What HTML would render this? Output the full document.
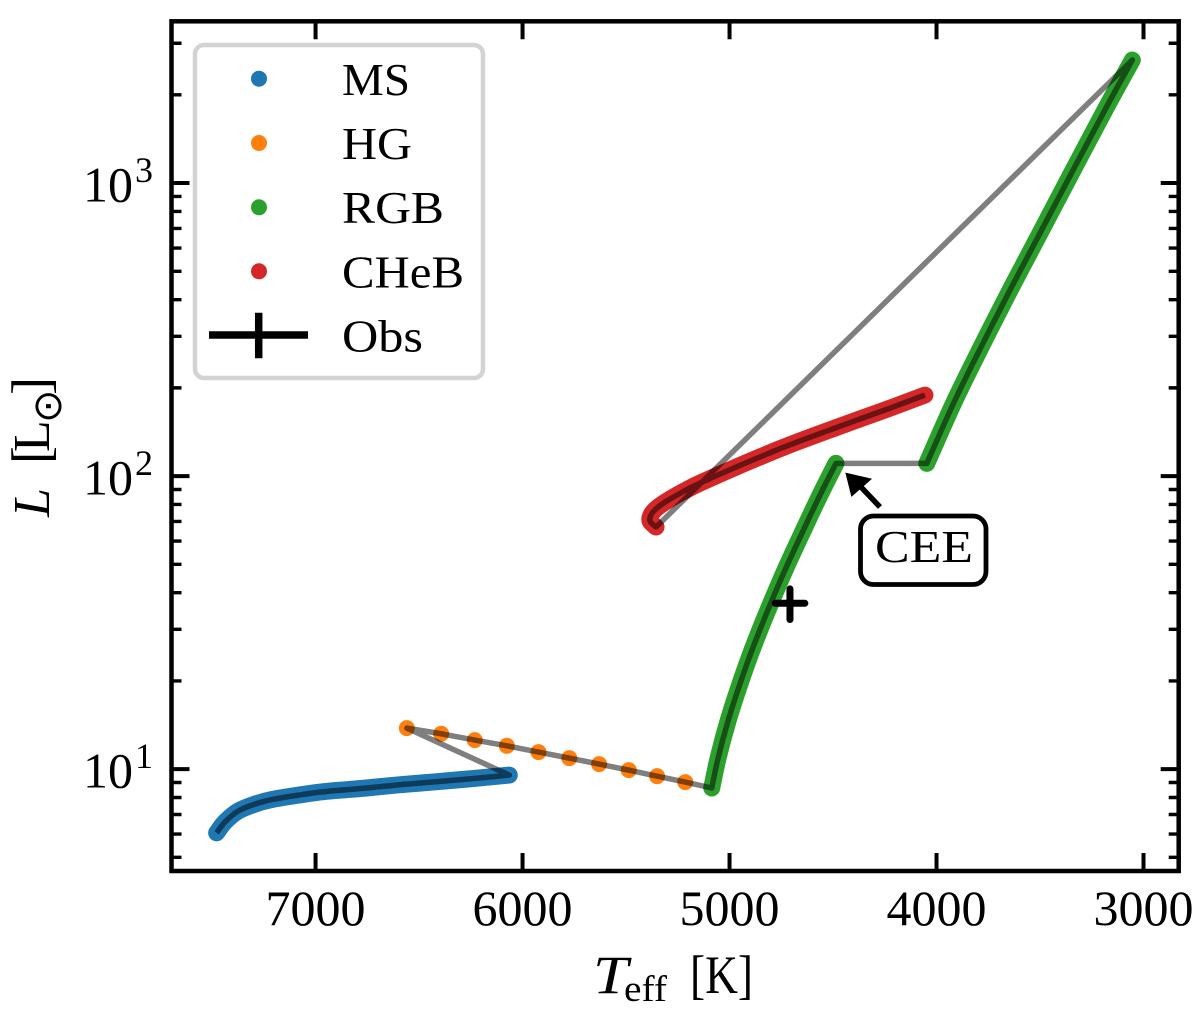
<!DOCTYPE html>
<html lang="en">
<head>
<meta charset="utf-8">
<title>HR diagram</title>
<style>
html,body{margin:0;padding:0;background:#fff;}
svg{display:block;}
text{font-family:"Liberation Serif","DejaVu Serif",serif;fill:#000;}
</style>
</head>
<body>
<svg id="chart" xmlns="http://www.w3.org/2000/svg" width="1200" height="1022" viewBox="0 0 1200 1022">
  <g id="colored"></g>
  <g id="track"></g>
  <g id="obs"></g>
  <g id="axes"></g>

  <g>
    <rect x="195" y="45" width="288" height="333" rx="9" fill="#fff" fill-opacity="0.8" stroke="#d3d3d3" stroke-width="4.5"/>
    <circle cx="259" cy="78.7" r="8" fill="#1f77b4"/>
    <circle cx="259" cy="143" r="8" fill="#ff7f0e"/>
    <circle cx="259" cy="207.3" r="8" fill="#2ca02c"/>
    <circle cx="259" cy="271.3" r="8" fill="#d62728"/>
    <path d="M209 335H308M258.7 312.7V358.3" stroke="#000" stroke-width="7.5" fill="none"/>
    <text x="342" y="95" font-size="46" textLength="68" lengthAdjust="spacingAndGlyphs">MS</text>
    <text x="342" y="159" font-size="46" textLength="70" lengthAdjust="spacingAndGlyphs">HG</text>
    <text x="342" y="223" font-size="46" textLength="102" lengthAdjust="spacingAndGlyphs">RGB</text>
    <text x="342" y="287.3" font-size="46" textLength="122" lengthAdjust="spacingAndGlyphs">CHeB</text>
    <text x="342" y="351.7" font-size="46" textLength="81" lengthAdjust="spacingAndGlyphs">Obs</text>
  </g>

  <g>
    <path d="M880 507L860 486" stroke="#000" stroke-width="5.5" fill="none"/>
    <polygon points="846,473.3 851.7,496 871,479" fill="#000" stroke="#000" stroke-width="1"/>
    <rect x="860.5" y="516" width="125.5" height="68.5" rx="13" fill="#fff" stroke="#000" stroke-width="4.8"/>
    <text x="875" y="562" font-size="46" textLength="98" lengthAdjust="spacingAndGlyphs">CEE</text>
  </g>

  <g>
    <text x="593" y="993" font-size="54" font-style="italic" textLength="35" lengthAdjust="spacingAndGlyphs">T</text>
    <text x="624" y="1001" font-size="37" textLength="43" lengthAdjust="spacingAndGlyphs">eff</text>
    <text x="690" y="993" font-size="54" textLength="63" lengthAdjust="spacingAndGlyphs">[K]</text>
  </g>

  <g transform="translate(49,517) rotate(-90)">
    <text x="0" y="0" font-size="52" font-style="italic">L</text>
    <text x="53" y="0" font-size="54">[</text>
    <text x="65" y="0" font-size="52">L</text>
    <text x="94" y="12" font-size="40" style="font-family:'DejaVu Sans',sans-serif">⊙</text>
    <text x="122" y="0" font-size="54">]</text>
  </g>
</svg>

<script>
// Axis limits
const xLimits = [7696, 2830];
const yLimits = [4.49, 3565];

// Tick values and labels
const xTicks = [7000, 6000, 5000, 4000, 3000];
const xTickLabels = ['7000', '6000', '5000', '4000', '3000'];
const yMajorTicks = [10, 100, 1000];
const yTickBases = ['10', '10', '10'];
const yTickExponents = ['1', '2', '3'];
const yMinorTicks = [5, 6, 7, 8, 9, 20, 30, 40, 50, 60, 70, 80, 90, 200, 300, 400, 500, 600, 700, 800, 900, 2000, 3000];

// Main sequence
const msTeff = [7478, 7437, 7374, 7292, 7212, 7083, 6957, 6761, 6589, 6420, 6250, 6064];
const msLum = [6.06, 6.61, 7.19, 7.6, 7.87, 8.15, 8.38, 8.61, 8.85, 9.05, 9.27, 9.54];

// Hertzsprung gap
const hgTeff = [6559, 6393, 6231, 6076, 5923, 5774, 5630, 5487, 5350, 5214];
const hgLum = [13.8, 13.2, 12.56, 12.01, 11.43, 10.9, 10.4, 9.92, 9.46, 9.03];

// Red giant branch, before the common-envelope event
const rgbATeff = [5086, 5054, 5006, 4949, 4885, 4808, 4732, 4643, 4563, 4486];
const rgbALum = [8.62, 11, 14.7, 19.6, 26.2, 35.8, 47.8, 65.4, 86.1, 110.5];

// Red giant branch, after the common-envelope event
const rgbBTeff = [4047, 3915, 3780, 3640, 3484, 3323, 3178, 3054];
const rgbBLum = [110.5, 179, 280, 438, 709, 1168, 1822, 2629];

// Core helium burning
const chebTeff = [5355, 5384, 5377, 5345, 5287, 5215, 5143, 4965, 4724, 4482, 4241, 4056];
const chebLum = [67, 70.2, 74.2, 78.4, 83.5, 89.2, 94.6, 107.6, 126.6, 146.6, 168.9, 189];

// Observation
const obsTeff = [4708];
const obsLum = [36.8];
const obsTeffErr = [72];
const obsLumErr = [4.4];

const NS = 'http://www.w3.org/2000/svg';
const plotLeft = 171.5, plotRight = 1178.7, plotTop = 21.3, plotBottom = 871;

function xScale(t) {
  return plotLeft + (t - xLimits[0]) / (xLimits[1] - xLimits[0]) * (plotRight - plotLeft);
}
function yScale(l) {
  const lo = Math.log10(yLimits[0]), hi = Math.log10(yLimits[1]);
  return plotBottom - (Math.log10(l) - lo) / (hi - lo) * (plotBottom - plotTop);
}
function toPoints(ts, ls) {
  return ts.map(function (t, i) { return [xScale(t), yScale(ls[i])]; });
}
// Smooth path through the points (Catmull-Rom converted to Bezier segments)
function smoothSegments(p) {
  let d = '';
  for (let i = 0; i < p.length - 1; i++) {
    const a = p[Math.max(i - 1, 0)], b = p[i], c = p[i + 1], e = p[Math.min(i + 2, p.length - 1)];
    const c1x = b[0] + (c[0] - a[0]) / 6, c1y = b[1] + (c[1] - a[1]) / 6;
    const c2x = c[0] - (e[0] - b[0]) / 6, c2y = c[1] - (e[1] - b[1]) / 6;
    d += 'C' + c1x.toFixed(2) + ' ' + c1y.toFixed(2) + ' ' + c2x.toFixed(2) + ' ' + c2y.toFixed(2) + ' ' + c[0].toFixed(2) + ' ' + c[1].toFixed(2);
  }
  return d;
}
function smoothPath(p) {
  return 'M' + p[0][0].toFixed(2) + ' ' + p[0][1].toFixed(2) + smoothSegments(p);
}

const colored = document.getElementById('colored');
const trackGroup = document.getElementById('track');
const obsGroup = document.getElementById('obs');
const axesGroup = document.getElementById('axes');

// Thick coloured bands (densely sampled phases)
const msPts = toPoints(msTeff, msLum);
const hgPts = toPoints(hgTeff, hgLum);
const rgbAPts = toPoints(rgbATeff, rgbALum);
const rgbBPts = toPoints(rgbBTeff, rgbBLum);
const chebPts = toPoints(chebTeff, chebLum);

const msBand = document.createElementNS(NS, 'path');


msBand.setAttribute('d', smoothPath(msPts));
msBand.setAttribute('stroke', '#1f77b4');
colored.appendChild(msBand);

const rgbABand = document.createElementNS(NS, 'path');


rgbABand.setAttribute('d', smoothPath(rgbAPts));
rgbABand.setAttribute('stroke', '#2ca02c');
colored.appendChild(rgbABand);

const rgbBBand = document.createElementNS(NS, 'path');


rgbBBand.setAttribute('d', smoothPath(rgbBPts));
rgbBBand.setAttribute('stroke', '#2ca02c');
colored.appendChild(rgbBBand);

const chebBand = document.createElementNS(NS, 'path');


chebBand.setAttribute('d', smoothPath(chebPts));
chebBand.setAttribute('stroke', '#d62728');
colored.appendChild(chebBand);

[msBand, rgbABand, rgbBBand, chebBand].forEach(function (b) {
  b.setAttribute('fill', 'none');
  b.setAttribute('stroke-width', '17');
  b.setAttribute('stroke-linecap', 'round');
  b.setAttribute('stroke-linejoin', 'round');
});

// Discrete Hertzsprung-gap points
hgPts.forEach(function (p) {
  const dot = document.createElementNS(NS, 'circle');
  
  
  dot.setAttribute('cx', p[0].toFixed(2));
  dot.setAttribute('cy', p[1].toFixed(2));
  dot.setAttribute('r', '8');
  dot.setAttribute('fill', '#ff7f0e');
  colored.appendChild(dot);
});

// Evolution track drawn over everything in time order
let trackD = smoothPath(msPts);
trackD += 'L' + hgPts.map(function (p) { return p[0].toFixed(2) + ' ' + p[1].toFixed(2); }).join('L');
trackD += 'L' + rgbAPts[0][0].toFixed(2) + ' ' + rgbAPts[0][1].toFixed(2) + smoothSegments(rgbAPts);
trackD += 'L' + rgbBPts[0][0].toFixed(2) + ' ' + rgbBPts[0][1].toFixed(2) + smoothSegments(rgbBPts);
trackD += 'L' + chebPts[0][0].toFixed(2) + ' ' + chebPts[0][1].toFixed(2) + smoothSegments(chebPts);
const trackLine = document.createElementNS(NS, 'path');


trackLine.setAttribute('d', trackD);
trackLine.setAttribute('fill', 'none');
trackLine.setAttribute('stroke', '#000');
trackLine.setAttribute('stroke-opacity', '0.5');
trackLine.setAttribute('stroke-width', '5.5');
trackLine.setAttribute('stroke-linejoin', 'round');
trackGroup.appendChild(trackLine);

// Observation with error bars
obsTeff.forEach(function (t, i) {
  const cx = xScale(t), cy = yScale(obsLum[i]);
  const xa = xScale(t + obsTeffErr[i]), xb = xScale(t - obsTeffErr[i]);
  const ya = yScale(obsLum[i] - obsLumErr[i]), yb = yScale(obsLum[i] + obsLumErr[i]);
  const err = document.createElementNS(NS, 'path');
  
  
  err.setAttribute('d', 'M' + xa + ' ' + cy + 'H' + xb + 'M' + cx + ' ' + ya + 'V' + yb);
  err.setAttribute('stroke', '#000');
  err.setAttribute('stroke-width', '7');
  err.setAttribute('stroke-linecap', 'round');
  err.setAttribute('fill', 'none');
  obsGroup.appendChild(err);
});

// Frame
const frame = document.createElementNS(NS, 'rect');


frame.setAttribute('x', plotLeft);
frame.setAttribute('y', plotTop);
frame.setAttribute('width', plotRight - plotLeft);
frame.setAttribute('height', plotBottom - plotTop);
frame.setAttribute('fill', 'none');
frame.setAttribute('stroke', '#000');
frame.setAttribute('stroke-width', '4.5');
axesGroup.appendChild(frame);

// Ticks
let xTickD = '';
xTicks.forEach(function (t) {
  const x = xScale(t);
  xTickD += 'M' + x.toFixed(2) + ' ' + plotBottom + 'v-18M' + x.toFixed(2) + ' ' + plotTop + 'v18';
});
const xTickPath = document.createElementNS(NS, 'path');


xTickPath.setAttribute('d', xTickD);
xTickPath.setAttribute('stroke', '#000');
xTickPath.setAttribute('stroke-width', '4');
axesGroup.appendChild(xTickPath);

let yMajorD = '';
yMajorTicks.forEach(function (v) {
  const y = yScale(v);
  yMajorD += 'M' + plotLeft + ' ' + y.toFixed(2) + 'h18M' + plotRight + ' ' + y.toFixed(2) + 'h-18';
});
const yMajorPath = document.createElementNS(NS, 'path');


yMajorPath.setAttribute('d', yMajorD);
yMajorPath.setAttribute('stroke', '#000');
yMajorPath.setAttribute('stroke-width', '4');
axesGroup.appendChild(yMajorPath);

let yMinorD = '';
yMinorTicks.forEach(function (v) {
  const y = yScale(v);
  yMinorD += 'M' + plotLeft + ' ' + y.toFixed(2) + 'h10M' + plotRight + ' ' + y.toFixed(2) + 'h-10';
});
const yMinorPath = document.createElementNS(NS, 'path');


yMinorPath.setAttribute('d', yMinorD);
yMinorPath.setAttribute('stroke', '#000');
yMinorPath.setAttribute('stroke-width', '3.4');
axesGroup.appendChild(yMinorPath);

// Tick labels
xTicks.forEach(function (t, i) {
  const label = document.createElementNS(NS, 'text');
  
  
  label.setAttribute('x', xScale(t).toFixed(2));
  label.setAttribute('y', '925');
  label.setAttribute('text-anchor', 'middle');
  label.setAttribute('font-size', '50');
  label.textContent = xTickLabels[i];
  axesGroup.appendChild(label);
});

yMajorTicks.forEach(function (v, i) {
  const y = yScale(v);
  const base = document.createElementNS(NS, 'text');
  
  
  base.setAttribute('x', '133');
  base.setAttribute('y', (y + 18.5).toFixed(2));
  base.setAttribute('text-anchor', 'end');
  base.setAttribute('font-size', '50');
  base.textContent = yTickBases[i];
  axesGroup.appendChild(base);
  const exp = document.createElementNS(NS, 'text');
  
  
  exp.setAttribute('x', '135');
  exp.setAttribute('y', (y - 1).toFixed(2));
  exp.setAttribute('font-size', '36');
  exp.textContent = yTickExponents[i];
  axesGroup.appendChild(exp);
});
</script>
</body>
</html>
